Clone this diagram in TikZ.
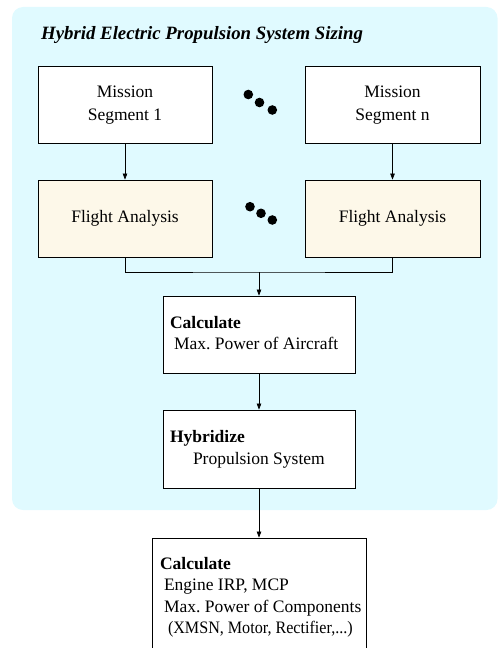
\documentclass[tikz,border=0pt]{standalone}
\usepackage{fontspec}
\setmainfont{Liberation Serif}
\usetikzlibrary{arrows.meta}
\definecolor{panelcyan}{RGB}{224,250,255}
\definecolor{creamfill}{RGB}{253,248,233}
\frenchspacing
% left-aligned block of lines, set in a box of fixed width
\newcommand{\leftlines}[2]{\makebox[#1][l]{\begin{tabular}{@{}l@{}}#2\end{tabular}}}
\begin{document}
\begin{tikzpicture}[x=1bp,y=-1bp,
  every node/.style={font=\fontsize{17.5bp}{21.5bp}\selectfont},
  box/.style={draw=black, line width=0.8bp, fill=white, inner sep=0pt, align=center},
  flightbox/.style={box, fill=creamfill},
  leftbox/.style={draw=black, line width=0.8bp, fill=white, inner ysep=0pt},
  link/.style={line width=0.7bp, -{Triangle[length=6bp,width=4.5bp]}},
  plain/.style={line width=0.7bp},
  dot/.style={fill=black}]
  \useasboundingbox (0,0) rectangle (498,648);
  \clip (0,0) rectangle (498,648);

  % panel behind the sizing loop
  \fill[panelcyan, rounded corners=11bp] (12,7) rectangle (497.5,510);
  \node[anchor=base west, font=\fontsize{18.8bp}{22bp}\selectfont\bfseries\itshape, inner sep=0pt]
    (title) at (41,40) {Hybrid Electric Propulsion System Sizing};

  % mission segments
  \node[box, minimum width=174bp, minimum height=77bp, font=\fontsize{17.5bp}{23bp}\selectfont] (m1) at (125,105) {Mission\\Segment 1};
  \node[box, minimum width=175bp, minimum height=77bp, font=\fontsize{17.5bp}{23bp}\selectfont] (mn) at (392.5,105) {Mission\\Segment n};
  \fill[dot] (248.3,94.5) circle (4.8bp) (259.5,102.5) circle (4.8bp) (272.3,110) circle (4.8bp);

  % flight analyses
  \node[flightbox, minimum width=174bp, minimum height=77bp] (f1) at (125,218.5) {Flight Analysis};
  \node[flightbox, minimum width=175bp, minimum height=77bp] (fn) at (392.5,218.5) {Flight Analysis};
  \fill[dot] (250,206.7) circle (4.8bp) (261,213.3) circle (4.8bp) (272.3,220) circle (4.8bp);

  \draw[link] (m1) -- (f1);
  \draw[link] (mn) -- (fn);

  % aircraft power
  \node[leftbox, minimum width=192bp, minimum height=77bp, inner xsep=7bp]
    (calc) at (259,334.5) {\leftlines{178bp}{\textbf{Calculate}\\\hspace*{4bp}Max. Power of Aircraft}};
  \coordinate (join) at (259,272);
  \draw[plain] (f1.south) |- (join) -| (fn.south);
  \draw[link] (join) -- (calc.north);

  % hybridization
  \node[leftbox, minimum width=192bp, minimum height=78bp, inner xsep=7bp]
    (hyb) at (259,449) {\leftlines{178bp}{\textbf{Hybridize}\\\hspace*{23bp}Propulsion System}};
  \draw[link] (calc) -- (hyb);

  % component sizing
  \node[leftbox, minimum width=214bp, minimum height=118bp, inner xsep=8bp]
    (comp) at (259,597) {\leftlines{198bp}{\textbf{Calculate}\\\hspace*{4bp}Engine IRP, MCP\\\hspace*{4bp}Max. Power of Components\\\hspace*{8bp}\scalebox{0.92}[1]{(XMSN, Motor, Rectifier,...)}}};
  \draw[link] (hyb) -- (comp);
\end{tikzpicture}
\end{document}
